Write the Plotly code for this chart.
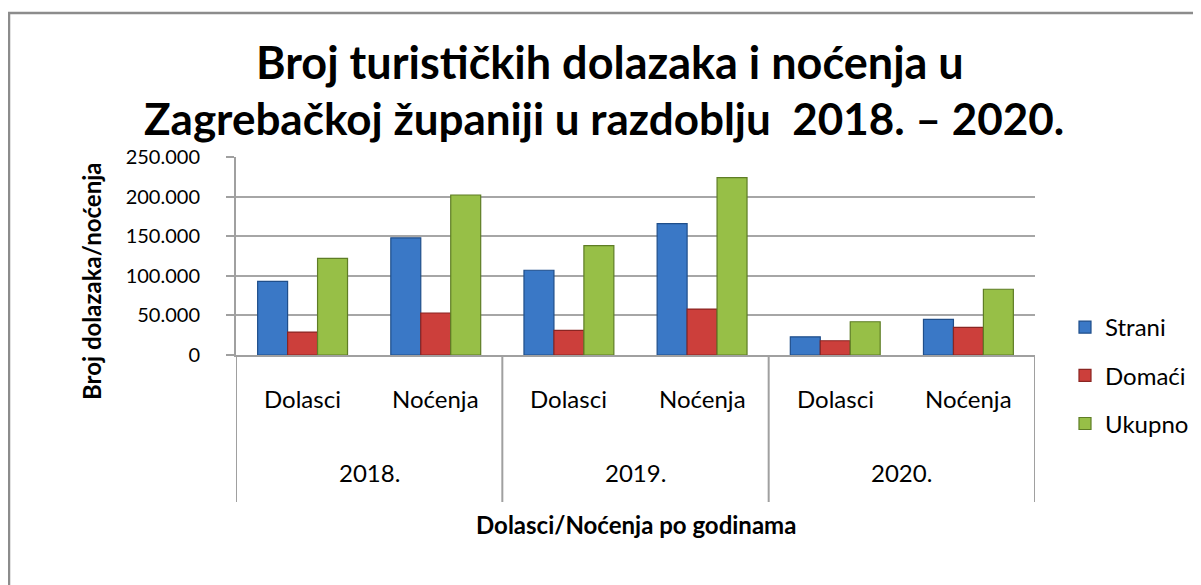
import plotly.graph_objects as go

years = ["2018.", "2019.", "2020."]
kinds = ["Dolasci", "Noćenja"]
categories = ["2018. Dolasci", "2018. Noćenja", "2019. Dolasci", "2019. Noćenja", "2020. Dolasci", "2020. Noćenja"]
strani = [93000, 148000, 107000, 166000, 23000, 45000]
domaci = [29000, 53000, 31000, 58000, 18000, 35000]
ukupno = [122000, 202000, 138000, 224000, 42000, 83000]
series_names = ["Strani", "Domaći", "Ukupno"]
y_ticks = [0, 50000, 100000, 150000, 200000, 250000]

colors = ["#3a78c6", "#cc3f3b", "#97bf47"]
edges = ["#1f4e8a", "#8a2522", "#5e7d25"]
FONT = "Lato"

OFF = 8  # page body margin
W, H = 1201 - OFF, 585 - OFF
# plot area in page pixels
L, R, T, B = 236, 1035, 157, 355


def px(x):
    return (x - L) / (R - L)


def py(y):
    return (B - y) / (B - T)


fig = go.Figure()
for i, (name, vals) in enumerate(zip(series_names, [strani, domaci, ukupno])):
    fig.add_trace(go.Bar(
        x=categories, y=vals, name=name,
        marker=dict(color=colors[i], line=dict(color=edges[i], width=1.2)),
        legendgroup=name,
    ))

annotations = []
annotations.append(dict(text="<b>Broj turističkih dolazaka i noćenja u</b>", x=px(610), y=py(62),
                        xref="paper", yref="paper", showarrow=False, xanchor="center", yanchor="middle",
                        font=dict(family=FONT, size=45, color="black")))
annotations.append(dict(text="<b>Zagrebačkoj županiji u razdoblju  2018. – 2020.</b>", x=px(604), y=py(118),
                        xref="paper", yref="paper", showarrow=False, xanchor="center", yanchor="middle",
                        font=dict(family=FONT, size=44, color="black")))
for c in categories:
    annotations.append(dict(text=c.split(" ")[1], x=c, y=py(398), xref="x", yref="paper",
                            showarrow=False, xanchor="center", yanchor="middle",
                            font=dict(family=FONT, size=24, color="black")))
for j, yr in enumerate(years):
    annotations.append(dict(text=yr, x=2 * j + 0.5, y=py(472), xref="x", yref="paper",
                            showarrow=False, xanchor="center", yanchor="middle",
                            font=dict(family=FONT, size=24, color="black")))
annotations.append(dict(text="<b>Dolasci/Noćenja po godinama</b>", x=px(636), y=py(524),
                        xref="paper", yref="paper", showarrow=False, xanchor="center", yanchor="middle",
                        font=dict(family=FONT, size=24, color="black")))
annotations.append(dict(text="<b>Broj dolazaka/noćenja</b>", x=px(91), y=py(282), textangle=-90,
                        xref="paper", yref="paper", showarrow=False, xanchor="center", yanchor="middle",
                        font=dict(family=FONT, size=24, color="black")))

shapes = []
shapes.append(dict(type="rect", xref="paper", yref="paper", x0=px(9), x1=px(1195), y0=py(640), y1=py(13),
                   line=dict(color="#8c8c8c", width=2.5), layer="below"))
for xs in [-0.5, 1.5, 3.5, 5.5]:
    shapes.append(dict(type="line", xref="x", yref="paper", x0=xs, x1=xs, y0=0, y1=py(502),
                       line=dict(color="#a0a0a0", width=2)))

fig.update_layout(
    width=W, height=H,
    margin=dict(l=L - OFF, r=1201 - R, t=T - OFF, b=585 - B, autoexpand=False),
    paper_bgcolor="white", plot_bgcolor="white",
    separators=",.",
    barmode="group", bargap=0.325, bargroupgap=0,
    font=dict(family=FONT, size=20, color="black"),
    showlegend=True,
    legend=dict(x=px(1065), y=py(305), xanchor="left", yanchor="top",
                font=dict(family=FONT, size=24, color="black"),
                tracegroupgap=14, traceorder="grouped", itemwidth=30,
                bgcolor="rgba(0,0,0,0)"),
    annotations=annotations, shapes=shapes,
    xaxis=dict(type="category", categoryorder="array", categoryarray=categories,
               showticklabels=False, ticks="", showline=True, linecolor="#a0a0a0", linewidth=2,
               showgrid=False, range=[-0.5, 5.5]),
    yaxis=dict(range=[0, 250000], tickvals=y_ticks, tickformat=",d",
               ticks="outside", ticklen=8, tickcolor="#a0a0a0", tickwidth=2,
               showline=True, linecolor="#a0a0a0", linewidth=2,
               showgrid=True, gridcolor="#a6a6a6", gridwidth=2, zeroline=False,
               tickfont=dict(family=FONT, size=20, color="black"), ticklabelstandoff=22),
)

fig.write_html("out.html")
